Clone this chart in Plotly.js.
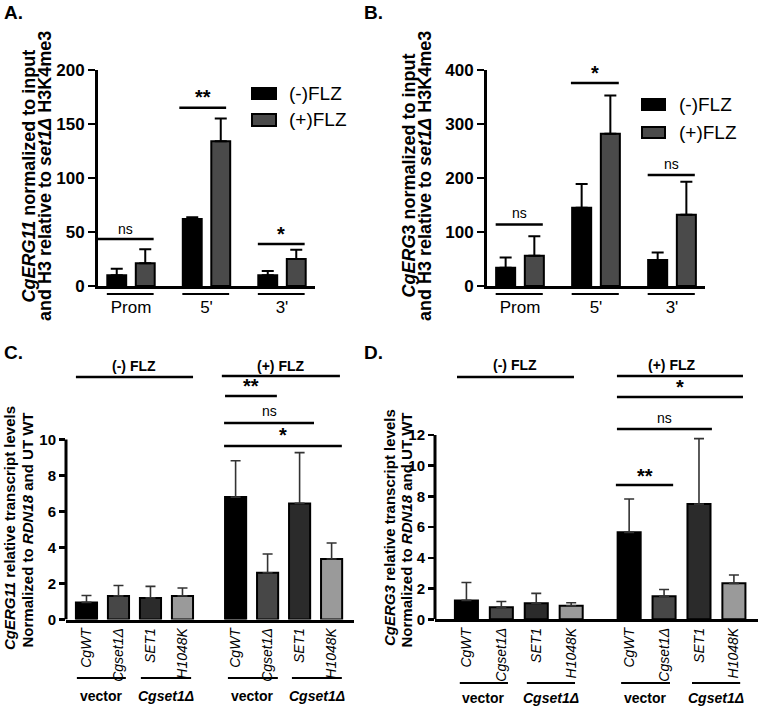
<!DOCTYPE html>
<html><head><meta charset="utf-8">
<script src="https://cdn.plot.ly/plotly-3.0.1.min.js"></script>
<style>html,body{margin:0;padding:0;background:#fff}#chart{width:760px;height:707px}</style>
</head><body><div id="chart"></div>
<script>
// ---------- data ----------
const regions = ['Prom', "5'", "3'"];
const seriesNames = ['(-)FLZ', '(+)FLZ'];
const erg11ChipMinus = [10, 62, 10];
const erg11ChipMinusErr = [6, 1.6, 3.8];
const erg11ChipPlus = [21, 134, 25];
const erg11ChipPlusErr = [13, 21, 8.5];
const erg3ChipMinus = [34, 145, 48];
const erg3ChipMinusErr = [19, 44, 14];
const erg3ChipPlus = [56, 282, 132];
const erg3ChipPlusErr = [36, 71, 61];

const strains = ['CgWT', 'Cgset1Δ', 'SET1', 'H1048K'];
const conditions = ['(-) FLZ', '(+) FLZ'];
const groupLabels = ['vector', '<i>Cgset1Δ</i>'];
const erg11RnaMinus = [0.95, 1.31, 1.2, 1.31];
const erg11RnaMinusErr = [0.38, 0.58, 0.64, 0.44];
const erg11RnaPlus = [6.8, 2.6, 6.45, 3.36];
const erg11RnaPlusErr = [2.02, 1.04, 2.82, 0.89];
const erg3RnaMinus = [1.23, 0.78, 1.04, 0.88];
const erg3RnaMinusErr = [1.17, 0.38, 0.65, 0.2];
const erg3RnaPlus = [5.66, 1.5, 7.5, 2.34];
const erg3RnaPlusErr = [2.17, 0.44, 4.26, 0.54];

// significance labels
const sigA = ['ns', '**', '*'];
const sigB = ['ns', '*', 'ns'];
const sigC = ['**', 'ns', '*'];
const sigD = ['**', 'ns', '*'];

// ---------- styling / layout helpers ----------
const W = 760, H = 707;
const FONT = 'Liberation Sans, Arial, sans-serif';
const px = v => v / W;
const py = v => 1 - v / H;
const chipColors = ['#000000', '#4a4a4a'];
const strainColors = ['#000000', '#474747', '#2b2b2b', '#9a9a9a'];
const GAP = 0.66;
const pos = (i, c) => i + c * (strains.length + GAP);

function zeros(a) { return a.map(() => 0); }

const traces = [];
// Panel A & B
[[erg11ChipMinus, erg11ChipMinusErr, erg11ChipPlus, erg11ChipPlusErr, 'x', 'y'],
 [erg3ChipMinus, erg3ChipMinusErr, erg3ChipPlus, erg3ChipPlusErr, 'x2', 'y2']].forEach(p => {
  [[p[0], p[1]], [p[2], p[3]]].forEach((s, k) => {
    traces.push({
      type: 'bar', x: regions, y: s[0], name: seriesNames[k], xaxis: p[4], yaxis: p[5],
      showlegend: false,
      marker: { color: chipColors[k], line: { color: '#000', width: 2 } },
      error_y: { type: 'data', symmetric: false, array: s[1], arrayminus: zeros(s[1]),
                 color: '#000', thickness: 2, width: 6 }
    });
  });
});
// Panel C & D
[[erg11RnaMinus, erg11RnaMinusErr, erg11RnaPlus, erg11RnaPlusErr, 'x3', 'y3'],
 [erg3RnaMinus, erg3RnaMinusErr, erg3RnaPlus, erg3RnaPlusErr, 'x4', 'y4']].forEach(p => {
  const xs = strains.map((s, i) => pos(i, 0)).concat(strains.map((s, i) => pos(i, 1)));
  traces.push({
    type: 'bar', x: xs, y: p[0].concat(p[2]), xaxis: p[4], yaxis: p[5], width: 0.66,
    showlegend: false,
    marker: { color: strainColors.concat(strainColors), line: { color: '#000', width: 2 } },
    error_y: { type: 'data', symmetric: false, array: p[1].concat(p[3]),
               arrayminus: zeros(p[1].concat(p[3])), color: '#333', thickness: 1.6, width: 5 }
  });
});

const tickPos = strains.map((s, i) => pos(i, 0)).concat(strains.map((s, i) => pos(i, 1)));
const tickTxt = strains.concat(strains);

const yBase = { showgrid: false, zeroline: false, ticks: 'outside', ticklen: 7, tickwidth: 2.5,
  tickcolor: '#000', linecolor: '#000', linewidth: 3, fixedrange: true };
const xBase = { showgrid: false, zeroline: false, showline: true, linecolor: '#000', linewidth: 3,
  ticks: '', fixedrange: true };

const layout = {
  width: W, height: H, margin: { l: 0, r: 0, t: 0, b: 0 },
  paper_bgcolor: '#fff', plot_bgcolor: 'rgba(0,0,0,0)',
  font: { family: FONT, color: '#000' },
  barmode: 'group', bargap: 0.245, bargroupgap: 0.337,
  xaxis: Object.assign({}, xBase, { domain: [px(98), px(315)], anchor: 'y', type: 'category',
    range: [-0.437, 2.437], tickfont: { size: 17 }, ticklabelstandoff: 4 }),
  yaxis: Object.assign({}, yBase, { domain: [py(286), py(70)], anchor: 'x', range: [0, 200],
    showline: true, tickvals: [0, 50, 100, 150, 200], tickfont: { size: 17, weight: 'bold' } }),
  xaxis2: Object.assign({}, xBase, { domain: [px(487), px(705)], anchor: 'y2', type: 'category',
    range: [-0.434, 2.434], tickfont: { size: 17 }, ticklabelstandoff: 4 }),
  yaxis2: Object.assign({}, yBase, { domain: [py(286), py(70)], anchor: 'x2', range: [0, 400],
    showline: true, tickvals: [0, 100, 200, 300, 400], tickfont: { size: 17, weight: 'bold' } }),
  xaxis3: Object.assign({}, xBase, { domain: [px(66), px(354)], anchor: 'y3', range: [-0.64, 8.36],
    tickvals: tickPos, ticktext: tickTxt, tickangle: -90, tickfont: { size: 14, style: 'italic' } }),
  yaxis3: Object.assign({}, yBase, { domain: [py(619.5), py(349.5)], anchor: 'x3', range: [0, 15],
    showline: false, tickvals: [0, 2, 4, 6, 8, 10], ticklen: 6, tickfont: { size: 15, weight: 'bold' } }),
  xaxis4: Object.assign({}, xBase, { domain: [px(435), px(758)], anchor: 'y4', range: [-0.9, 8.35],
    tickvals: tickPos, ticktext: tickTxt, tickangle: -90, tickfont: { size: 14, style: 'italic' } }),
  yaxis4: Object.assign({}, yBase, { domain: [py(619.3), py(350.5)], anchor: 'x4', range: [0, 17.5],
    showline: false, tickvals: [0, 2, 4, 6, 8, 10, 12], ticklen: 6, tickfont: { size: 15, weight: 'bold' } }),
  shapes: [], annotations: []
};

const S = layout.shapes, A = layout.annotations;
function line(xref, yref, x0, x1, y0, y1, w) {
  S.push({ type: 'line', xref, yref, x0, x1, y0, y1, line: { color: '#000', width: w || 2.5 } });
}
function txt(xref, yref, x, y, text, size, opts) {
  A.push(Object.assign({ xref, yref, x, y, text, showarrow: false,
    font: { family: FONT, size, color: '#000' }, xanchor: 'center', yanchor: 'middle' }, opts || {}));
}
const bold = sz => ({ family: FONT, size: sz, weight: 'bold', color: '#000' });

// panel letters
[['A.', 2, 12], ['B.', 362, 12], ['C.', 2, 352], ['D.', 362, 352]].forEach(l =>
  txt('paper', 'paper', px(l[1]), py(l[2]), l[0], 18, { xanchor: 'left', font: bold(19) }));

// y titles
txt('paper', 'paper', px(28.5), py(176), '<i>CgERG11</i> normalized to input', 18, { textangle: -90, font: bold(18) });
txt('paper', 'paper', px(45), py(176), 'and H3 relative to <i>set1Δ</i> H3K4me3', 18, { textangle: -90, font: bold(18) });
txt('paper', 'paper', px(408.5), py(176), '<i>CgERG</i>3 normalized to input', 18, { textangle: -90, font: bold(18) });
txt('paper', 'paper', px(425), py(176), 'and H3 relative to <i>set1Δ</i> H3K4me3', 18, { textangle: -90, font: bold(18) });
txt('paper', 'paper', px(9), py(528), '<i>CgERG11</i> relative transcript levels', 15, { textangle: -90, font: bold(15) });
txt('paper', 'paper', px(26.5), py(530), 'Normalized to <i>RDN18</i> and UT WT', 15, { textangle: -90, font: bold(15) });
txt('paper', 'paper', px(389), py(528), '<i>CgERG3</i> relative transcript levels', 15, { textangle: -90, font: bold(15) });
txt('paper', 'paper', px(405.5), py(530), 'Normalized to <i>RDN18</i> and UT WT', 15, { textangle: -90, font: bold(15) });

// legends A/B
[[252, 276, 88, 99, 287, 93.5, 0], [252, 276, 114, 126, 287, 120, 1],
 [642, 665, 99, 110, 677, 104.5, 0], [642, 665, 127, 138, 677, 132.5, 1]].forEach(l => {
  S.push({ type: 'rect', xref: 'paper', yref: 'paper', x0: px(l[0]), x1: px(l[1]), y0: py(l[3]), y1: py(l[2]),
    fillcolor: chipColors[l[6]], line: { color: '#000', width: 2 } });
  txt('paper', 'paper', px(l[4]), py(l[5]), seriesNames[l[6]], 19, { xanchor: 'left' });
});

// region underlines A/B
regions.forEach((r, i) => {
  line('x', 'paper', i - 0.32, i + 0.30, py(294), py(294), 2);
  line('x2', 'paper', i - 0.32, i + 0.30, py(294), py(294), 2);
});

// significance A / B
const sigAx = [[-0.44, 0.30, 43.5, 52.8], [0.64, 1.26, 165, 175], [1.68, 2.30, 39, 48]];
sigAx.forEach((s, i) => {
  line('x', 'y', s[0], s[1], s[2], s[2]);
  const star = sigA[i] !== 'ns';
  txt('x', 'y', (s[0] + s[1]) / 2, s[3], sigA[i], star ? 20 : 14, star ? { font: bold(20) } : {});
});
const sigBx = [[-0.32, 0.30, 113.7, 136], [0.67, 1.30, 375.8, 394], [1.68, 2.30, 205.6, 226]];
sigBx.forEach((s, i) => {
  line('x2', 'y2', s[0], s[1], s[2], s[2]);
  const star = sigB[i] !== 'ns';
  txt('x2', 'y2', (s[0] + s[1]) / 2, s[3], sigB[i], star ? 20 : 14, star ? { font: bold(20) } : {});
});

// panel C decorations
S.push({ type: 'line', xref: 'paper', yref: 'y3', x0: px(66), x1: px(66), y0: 0, y1: 10, line: { color: '#000', width: 3 } });
line('x3', 'y3', -0.33, 3.33, 13.47, 13.47);
line('x3', 'y3', 4.23, 7.92, 13.53, 13.53);
txt('x3', 'y3', 1.5, 14.1, conditions[0], 14, { font: bold(14) });
txt('x3', 'y3', 6.07, 14.1, conditions[1], 14, { font: bold(14) });
const sigCx = [[4.33, 5.95, 12.42, 13.0], [4.3, 7.11, 10.92, 11.6], [4.3, 7.98, 9.64, 10.25]];
sigCx.forEach((s, i) => {
  line('x3', 'y3', s[0], s[1], s[2], s[2]);
  const star = sigC[i] !== 'ns';
  txt('x3', 'y3', (s[0] + s[1]) / 2, s[3], sigC[i], star ? 20 : 14, star ? { font: bold(20) } : {});
});
[[-0.3, 1.23, 0], [1.7, 3.27, 1], [4.42, 5.98, 0], [6.42, 7.98, 1]].forEach(g => {
  line('x3', 'paper', g[0], g[1], py(678), py(678), 2);
  txt('x3', 'paper', (g[0] + g[1]) / 2, py(696), groupLabels[g[2]], 14, { font: bold(14) });
});

// panel D decorations
S.push({ type: 'line', xref: 'paper', yref: 'y4', x0: px(435), x1: px(435), y0: 0, y1: 12, line: { color: '#000', width: 3 } });
line('x4', 'y4', -0.27, 3.08, 15.77, 15.77);
line('x4', 'y4', 4.31, 7.92, 15.84, 15.84);
txt('x4', 'y4', 1.39, 16.56, conditions[0], 14, { font: bold(14) });
txt('x4', 'y4', 5.86, 16.56, conditions[1], 14, { font: bold(14) });
const sigDx = [[4.28, 5.92, 8.74, 9.35], [4.31, 7.03, 12.39, 13.1], [4.31, 7.92, 14.47, 15.1]];
sigDx.forEach((s, i) => {
  line('x4', 'y4', s[0], s[1], s[2], s[2]);
  const star = sigD[i] !== 'ns';
  txt('x4', 'y4', (s[0] + s[1]) / 2, s[3], sigD[i], star ? 20 : 14, star ? { font: bold(20) } : {});
});
[[-0.19, 1.19, 0], [1.73, 3.11, 1], [4.43, 5.83, 0], [6.46, 7.84, 1]].forEach(g => {
  line('x4', 'paper', g[0], g[1], py(683), py(683), 2);
  txt('x4', 'paper', (g[0] + g[1]) / 2, py(698), groupLabels[g[2]], 14, { font: bold(14) });
});

Plotly.newPlot('chart', traces, layout, { staticPlot: true });
</script>
</body></html>
